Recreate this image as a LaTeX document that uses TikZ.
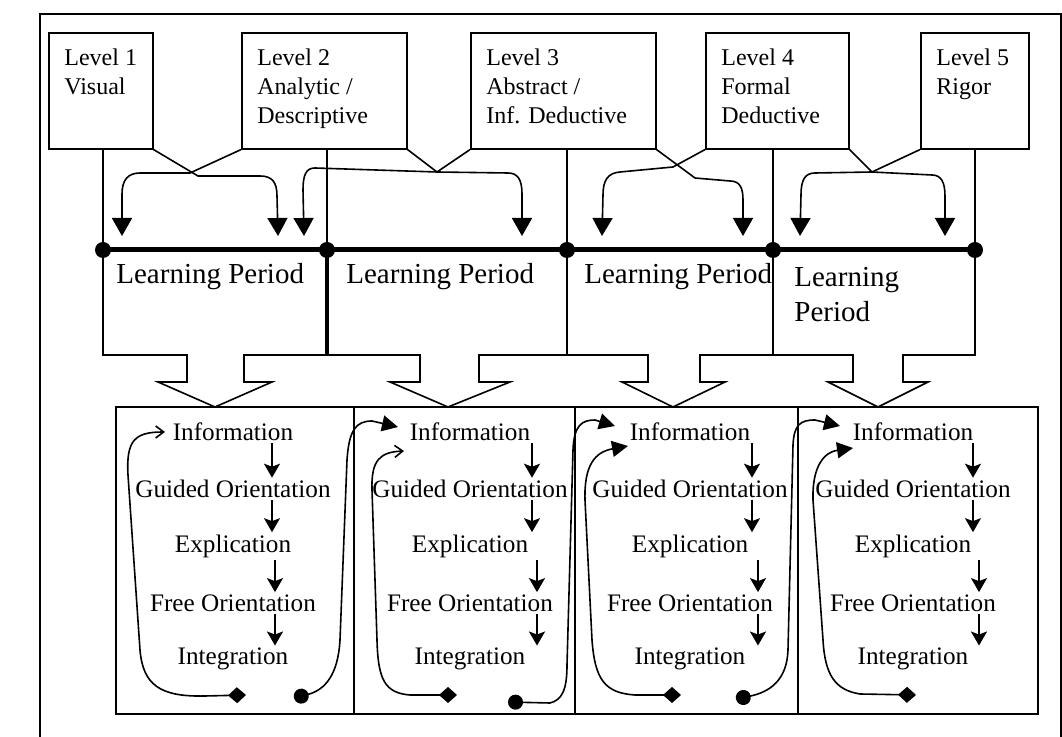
\documentclass[tikz,border=0pt]{standalone}
\usepackage{fontspec}
\setmainfont{Liberation Serif}
\usetikzlibrary{arrows.meta,positioning}

\tikzset{
  levelbox/.style={draw, line width=0.8pt, anchor=north west, minimum height=58pt, inner sep=0pt},
  leveltext/.style={anchor=north west, align=left, inner sep=0pt, font=\fontsize{12}{14.5}\selectfont},
  periodtext/.style={anchor=west, align=left, inner sep=0pt, font=\fontsize{14.5}{17.5}\selectfont},
  stage/.style={inner sep=1pt, font=\fontsize{12.6}{15}\selectfont},
  stageflow/.style={line width=0.9pt, -{Stealth[width=8pt,length=7pt,inset=1.5pt]}},
  levelflow/.style={line width=0.8pt, -{Triangle[width=10pt,length=9pt]}},
  loopthin/.style={line width=0.8pt, {Turned Square[width=8pt,length=9pt]}-{Straight Barb[width=6pt,length=4pt]}},
  loopfill/.style={line width=0.8pt, {Turned Square[width=8pt,length=9pt]}-{Triangle[width=8pt,length=8pt]}},
  loopnext/.style={line width=0.8pt, {Circle[length=7.5pt]}-{Triangle[width=8pt,length=8pt]}}
}

\begin{document}
\begin{tikzpicture}[x=0.5pt, y=-0.5pt]
      \useasboundingbox (0,0) rectangle (1062,737);

      % Outer frame
      \draw[line width=0.9pt] (40,737) -- (40,14) -- (1061,14) -- (1061,737);

      % Level boxes
      \node[levelbox, minimum width=52pt] (l1) at (48,32) {};
      \node[levelbox, minimum width=82.5pt] (l2) at (241,32) {};
      \node[levelbox, minimum width=92.5pt] (l3) at (470,32) {};
      \node[levelbox, minimum width=71.5pt] (l4) at (705,32) {};
      \node[levelbox, minimum width=54pt] (l5) at (920,32) {};
      \node[leveltext] at ([xshift=8pt,yshift=-8pt]l1.north west) {Level 1\\Visual};
      \node[leveltext] at ([xshift=8pt,yshift=-8pt]l2.north west) {Level 2\\Analytic /\\Descriptive};
      \node[leveltext] at ([xshift=8pt,yshift=-8pt]l3.north west) {Level 3\\Abstract /\\Inf. Deductive};
      \node[leveltext] at ([xshift=8pt,yshift=-8pt]l4.north west) {Level 4\\Formal\\Deductive};
      \node[leveltext] at ([xshift=8pt,yshift=-8pt]l5.north west) {Level 5\\Rigor};

      % Points on the time line
      \coordinate (d1) at (103,250);
      \coordinate (d2) at (327,250);
      \coordinate (d3) at (567,250);
      \coordinate (d4) at (773,250);
      \coordinate (d5) at (975,250);
      \draw[line width=0.8pt] (l1.south -| d1) -- (d1);
      \draw[line width=0.8pt] (l2.south -| d2) -- (d2);
      \draw[line width=0.8pt] (l3.south -| d3) -- (d3);
      \draw[line width=0.8pt] (l4.south -| d4) -- (d4);
      \draw[line width=0.8pt] (l5.south -| d5) -- (d5);

      % Hand-over arrows between levels
      \coordinate (tA) at (278,236);
      \coordinate (tB) at (122,236);
      \coordinate (tC) at (522,236);
      \coordinate (tD) at (304,236);
      \coordinate (tE) at (743,236);
      \coordinate (tF) at (602,236);
      \coordinate (tG) at (945,236);
      \coordinate (tH) at (800,236);
      \draw[levelflow] (l1.south east) -- (198,176) -- (260,176) .. controls (272,176) and (277,182) .. (277,196) -- (tA);
      \draw[levelflow] (l2.south west) -- (190,173) -- (140,173) .. controls (128,173) and (122,180) .. (122,194) -- (tB);
      \draw[levelflow] (l2.south east) -- (437,172) -- (508,173) .. controls (518,173) and (522,180) .. (522,194) -- (tC);
      \draw[levelflow] (l3.south west) -- (437,172) -- (315,168) .. controls (306,168) and (303,175) .. (303,190) -- (tD);
      \draw[levelflow] (l3.south east) -- (695,178) -- (730,181) .. controls (740,181) and (743,188) .. (743,200) -- (tE);
      \draw[levelflow] (l4.south west) -- (673,167) -- (620,172) .. controls (608,173) and (603,180) .. (603,195) -- (tF);
      \draw[levelflow] (l4.south east) -- (872,172) -- (932,175) .. controls (941,175) and (945,182) .. (945,196) -- (tG);
      \draw[levelflow] (l5.south west) -- (872,172) -- (815,173) .. controls (805,173) and (801,180) .. (801,195) -- (tH);

      % Learning periods with block arrows
      \draw[line width=0.8pt] (d1) -- (103,355) -- (187,355) -- (187,382) -- (158,382) -- (215,407) -- (272,382) -- (244,382) -- (244,355) -- (327,355);
      \draw[line width=2pt] (d2) -- (327,356);
      \draw[line width=0.8pt] (327,355) -- (420,355) -- (420,382) -- (390,382) -- (448,407) -- (510,382) -- (479,382) -- (479,355) -- (567,355) -- (d3);
      \draw[line width=0.8pt] (567,355) -- (648,355) -- (648,382) -- (622,382) -- (673,407) -- (725,382) -- (700,382) -- (700,355) -- (773,355) -- (d4);
      \draw[line width=0.8pt] (773,355) -- (853,355) -- (853,382) -- (828,382) -- (878,407) -- (928,382) -- (903,382) -- (903,355) -- (975,355) -- (d5);
      \node[periodtext] (p1) at (116,277) {Learning Period};
      \node[periodtext] (p2) at (346,277) {Learning Period};
      \node[periodtext] (p3) at (584,277) {Learning Period};
      \node[periodtext] (p4) at (794,295) {Learning\\Period};

      % Time line (thick) and its points
      \draw[line width=2.5pt] (d1) -- (d5);
      \fill (d1) circle[radius=4pt];
      \fill (d2) circle[radius=4pt];
      \fill (d3) circle[radius=4pt];
      \fill (d4) circle[radius=4pt];
      \fill (d5) circle[radius=4pt];

      % Phase boxes
      \draw[line width=0.8pt] (116,407) rectangle (1038,714);
      \draw[line width=0.8pt] (354,407) -- (354,714);
      \draw[line width=0.8pt] (575,407) -- (575,714);
      \draw[line width=0.8pt] (798,407) -- (798,714);

      % Phases, box 1
      \node[stage] (inf1) at (233,432) {Information};
      \node[stage] (gui1) at (233,489) {Guided Orientation};
      \node[stage] (exp1) at (233,546) {Explication};
      \node[stage] (fre1) at (233,603) {Free Orientation};
      \node[stage] (int1) at (233,659) {Integration};
      % Phases, box 2
      \node[stage] (inf2) at (470,432) {Information};
      \node[stage] (gui2) at (470,489) {Guided Orientation};
      \node[stage] (exp2) at (470,546) {Explication};
      \node[stage] (fre2) at (470,603) {Free Orientation};
      \node[stage] (int2) at (470,659) {Integration};
      % Phases, box 3
      \node[stage] (inf3) at (690,432) {Information};
      \node[stage] (gui3) at (690,489) {Guided Orientation};
      \node[stage] (exp3) at (690,546) {Explication};
      \node[stage] (fre3) at (690,603) {Free Orientation};
      \node[stage] (int3) at (690,659) {Integration};
      % Phases, box 4
      \node[stage] (inf4) at (913,432) {Information};
      \node[stage] (gui4) at (913,489) {Guided Orientation};
      \node[stage] (exp4) at (913,546) {Explication};
      \node[stage] (fre4) at (913,603) {Free Orientation};
      \node[stage] (int4) at (913,659) {Integration};

      % Arrows between phases
      \draw[stageflow] ([xshift=19.5pt]inf1.south) -- ([xshift=19.5pt]gui1.north);
      \draw[stageflow] ([xshift=19.5pt]gui1.south) -- ([xshift=19.5pt]exp1.north);
      \draw[stageflow] ([xshift=21pt]exp1.south) -- ([xshift=21pt]fre1.north);
      \draw[stageflow] ([xshift=21pt]fre1.south) -- ([xshift=21pt]int1.north);
      \draw[stageflow] ([xshift=31pt]inf2.south) -- ([xshift=31pt]gui2.north);
      \draw[stageflow] ([xshift=31pt]gui2.south) -- ([xshift=31pt]exp2.north);
      \draw[stageflow] ([xshift=33.5pt]exp2.south) -- ([xshift=33.5pt]fre2.north);
      \draw[stageflow] ([xshift=33.5pt]fre2.south) -- ([xshift=33.5pt]int2.north);
      \draw[stageflow] ([xshift=31pt]inf3.south) -- ([xshift=31pt]gui3.north);
      \draw[stageflow] ([xshift=31pt]gui3.south) -- ([xshift=31pt]exp3.north);
      \draw[stageflow] ([xshift=34pt]exp3.south) -- ([xshift=34pt]fre3.north);
      \draw[stageflow] ([xshift=34pt]fre3.south) -- ([xshift=34pt]int3.north);
      \draw[stageflow] ([xshift=30pt]inf4.south) -- ([xshift=30pt]gui4.north);
      \draw[stageflow] ([xshift=30pt]gui4.south) -- ([xshift=30pt]exp4.north);
      \draw[stageflow] ([xshift=33pt]exp4.south) -- ([xshift=33pt]fre4.north);
      \draw[stageflow] ([xshift=33pt]fre4.south) -- ([xshift=33pt]int4.north);

      % Loops back to Information
      \coordinate (lp1a) at (246,695); \coordinate (lp1b) at (165,432);
      \coordinate (lp2a) at (457,695); \coordinate (lp2b) at (404,451);
      \coordinate (lp3a) at (681,695); \coordinate (lp3b) at (628,446);
      \coordinate (lp4a) at (916,695); \coordinate (lp4b) at (853,448);
      \draw[loopthin] (lp1a) -- (205,696) .. controls (160,697) and (143,685) .. (140,650) -- (128,475) .. controls (126,440) and (135,432) .. (lp1b);
      \draw[loopthin] (lp2a) -- (410,695) .. controls (385,693) and (378,680) .. (377,640) -- (372,490) .. controls (371,460) and (380,452) .. (lp2b);
      \draw[loopfill] (lp3a) -- (635,695) .. controls (605,693) and (595,680) .. (592,640) -- (585,500) .. controls (584,465) and (595,452) .. (lp3b);
      \draw[loopfill] (lp4a) -- (860,694) .. controls (835,690) and (825,675) .. (823,640) -- (813,500) .. controls (812,465) and (825,452) .. (lp4b);

      % Loops on to the next box
      \coordinate (rt1a) at (294,698); \coordinate (rt1b) at (398,427);
      \coordinate (rt2a) at (508,702); \coordinate (rt2b) at (615,426);
      \coordinate (rt3a) at (736,699); \coordinate (rt3b) at (840,426);
      \draw[loopnext] (rt1a) .. controls (325,690) and (338,675) .. (340,640) -- (347,460) .. controls (349,430) and (356,421) .. (372,421) -- (rt1b);
      \draw[loopnext] (rt2a) -- (550,703) .. controls (562,700) and (567,690) .. (567,665) -- (573,450) .. controls (574,425) and (582,420) .. (595,420) -- (rt2b);
      \draw[loopnext] (rt3a) .. controls (770,692) and (787,680) .. (788,650) -- (793,445) .. controls (794,425) and (800,420) .. (815,420) -- (rt3b);
    \end{tikzpicture}
\end{document}
